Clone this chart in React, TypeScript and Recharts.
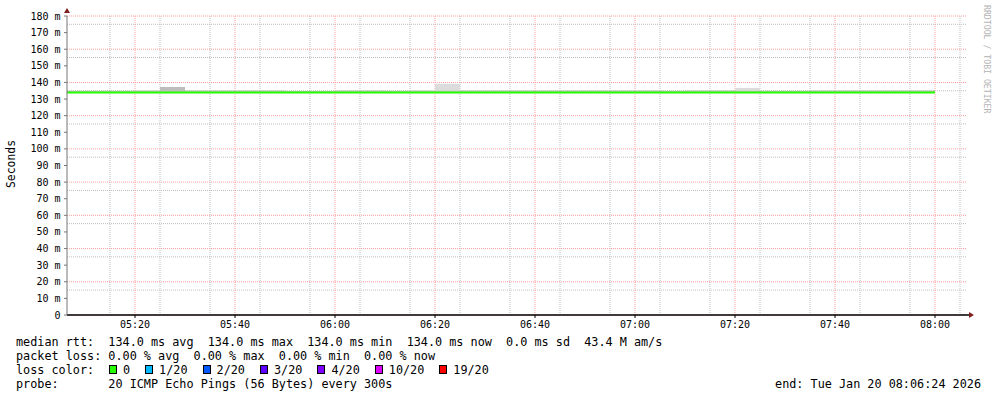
import React from 'react';
import { ComposedChart, Line, Area, XAxis, YAxis, CartesianGrid } from 'recharts';

// step start times (300s steps), last entry closes the final step
const timeLabels = [
  '05:05', '05:10', '05:15', '05:20', '05:25', '05:30', '05:35', '05:40', '05:45',
  '05:50', '05:55', '06:00', '06:05', '06:10', '06:15', '06:20', '06:25', '06:30',
  '06:35', '06:40', '06:45', '06:50', '06:55', '07:00', '07:05', '07:10', '07:15',
  '07:20', '07:25', '07:30', '07:35', '07:40', '07:45', '07:50', '07:55', '08:00',
];

// median rtt in ms
const medianRtt = [
  134.0, 134.0, 134.0, 134.0, 134.0, 134.0, 134.0, 134.0, 134.0,
  134.0, 134.0, 134.0, 134.0, 134.0, 134.0, 134.0, 134.0, 134.0,
  134.0, 134.0, 134.0, 134.0, 134.0, 134.0, 134.0, 134.0, 134.0,
  134.0, 134.0, 134.0, 134.0, 134.0, 134.0, 134.0, 134.0, 134.0,
];

// top of the dense smoke band (ms)
const smokeDense = [
  135.0, 135.0, 135.0, 135.2, 137.2, 135.1, 135.1, 135.1, 135.1,
  134.9, 134.9, 135.1, 135.1, 135.0, 135.2, 135.1, 135.1, 135.1,
  135.1, 135.2, 135.2, 135.1, 135.1, 135.2, 135.0, 135.2, 135.2,
  135.2, 135.0, 135.0, 135.1, 135.1, 135.1, 135.1, 135.1, 135.1,
];

// top of the sparse smoke (max ping, ms)
const smokeMax = [
  135.0, 135.0, 135.0, 135.5, 137.2, 135.1, 135.1, 135.1, 135.1,
  134.9, 134.9, 135.1, 135.1, 135.0, 135.5, 139.2, 135.1, 135.1,
  135.1, 135.2, 135.2, 135.1, 135.1, 135.2, 135.0, 135.2, 135.2,
  136.6, 135.0, 135.0, 135.1, 135.1, 135.1, 135.1, 135.1, 135.1,
];

const xTickLabels = ['05:20', '05:40', '06:00', '06:20', '06:40', '07:00', '07:20', '07:40', '08:00'];
const yTicks = [0, 10, 20, 30, 40, 50, 60, 70, 80, 90, 100, 110, 120, 130, 140, 150, 160, 170, 180];

const lossLabels = ['0', '1/20', '2/20', '3/20', '4/20', '10/20', '19/20'];
const lossColors = ['#26ff00', '#00b8ff', '#0059ff', '#5e00ff', '#7e00ff', '#dd00ff', '#ff0000'];

const toMin = (s: string) => {
  const [h, m] = s.split(':').map(Number);
  return h * 60 + m;
};
const fmtTime = (v: number) =>
  `${String(Math.floor(v / 60)).padStart(2, '0')}:${String(Math.round(v % 60)).padStart(2, '0')}`;

const data = timeLabels.map((t, i) => ({
  t: toMin(t),
  median: medianRtt[i],
  dense: [medianRtt[i], smokeDense[i]],
  sparse: [smokeDense[i], smokeMax[i]],
}));

const START = toMin('05:06') + 0.4;
const END = toMin('08:06') + 0.4;

const W = 997;
const H = 397;
const PLOT_LEFT = 67;
const PLOT_TOP = 16;
const PLOT_RIGHT = 967;
const PLOT_BOTTOM = 315;

const MONO = '"DejaVu Sans Mono", monospace';

const minorX: number[] = [];
for (let m = toMin('05:10'); m <= toMin('08:05'); m += 5) minorX.push(m);
const majorX = xTickLabels.map(toMin);
const minorY: number[] = [];
for (let v = 5; v < 180; v += 10) minorY.push(v);

const legendRow = (top: number): React.CSSProperties => ({
  position: 'absolute',
  left: 16,
  top,
  fontFamily: MONO,
  fontSize: 11.8,
  lineHeight: '14px',
  whiteSpace: 'pre',
  color: '#000',
});

export default function App() {
  return (
    <div style={{ position: 'absolute', left: 0, top: 0, width: W, height: H, background: '#fff' }}>
      <ComposedChart
        width={W}
        height={H}
        data={data}
        margin={{ top: PLOT_TOP, right: W - PLOT_RIGHT, bottom: H - PLOT_BOTTOM - 20, left: 7 }}
      >
        <CartesianGrid
          horizontalValues={minorY}
          verticalValues={minorX}
          stroke="#bdbdbd"
          strokeDasharray="1 1"
        />
        <CartesianGrid
          horizontalValues={yTicks}
          verticalValues={majorX}
          stroke="#ff9f9f"
          strokeDasharray="1 1"
        />
        <XAxis
          dataKey="t"
          type="number"
          domain={[START, END]}
          allowDataOverflow
          ticks={majorX}
          tickFormatter={fmtTime}
          height={20}
          tickSize={3}
          tickMargin={3}
          axisLine={{ stroke: '#000', strokeWidth: 1.5 }}
          tickLine={{ stroke: '#000' }}
          tick={{ fontFamily: MONO, fontSize: 10, fill: '#000' }}
        />
        <YAxis
          type="number"
          domain={[0, 180]}
          ticks={yTicks}
          allowDataOverflow
          width={60}
          tickSize={3}
          tickMargin={3.5}
          tickFormatter={(v: number) => (v === 0 ? '0' : `${v} m`)}
          axisLine={{ stroke: '#777' }}
          tickLine={{ stroke: '#777' }}
          tick={{ fontFamily: MONO, fontSize: 10, fill: '#000' }}
        />
        <Area
          type="stepAfter"
          dataKey="dense"
          stroke="none"
          fill="#bdbdbd"
          fillOpacity={1}
          isAnimationActive={false}
          dot={false}
          activeDot={false}
        />
        <Area
          type="stepAfter"
          dataKey="sparse"
          stroke="none"
          fill="#dcdcdc"
          fillOpacity={1}
          isAnimationActive={false}
          dot={false}
          activeDot={false}
        />
        <Line
          type="stepAfter"
          dataKey="median"
          stroke="#26ff00"
          strokeWidth={2}
          dot={false}
          activeDot={false}
          isAnimationActive={false}
        />
      </ComposedChart>

      <svg
        width={W}
        height={H}
        style={{ position: 'absolute', left: 0, top: 0, pointerEvents: 'none' }}
      >
        <line x1={PLOT_RIGHT} y1={PLOT_BOTTOM} x2={PLOT_RIGHT + 3} y2={PLOT_BOTTOM} stroke="#000" strokeWidth={1.5} />
        <polygon
          points={`${PLOT_LEFT - 3},${PLOT_TOP - 3} ${PLOT_LEFT + 3},${PLOT_TOP - 3} ${PLOT_LEFT},${PLOT_TOP - 8}`}
          fill="#7f1f1f"
        />
        <polygon
          points={`${PLOT_RIGHT + 2},${PLOT_BOTTOM - 3} ${PLOT_RIGHT + 2},${PLOT_BOTTOM + 3} ${PLOT_RIGHT + 7},${PLOT_BOTTOM}`}
          fill="#7f1f1f"
        />
        <text
          x={11}
          y={164}
          transform="rotate(-90 11 164)"
          textAnchor="middle"
          dominantBaseline="central"
          fontFamily={MONO}
          fontSize={11.4}
          fill="#000"
        >
          Seconds
        </text>
        <text
          x={987}
          y={5}
          transform="rotate(90 987 5)"
          textAnchor="start"
          dominantBaseline="central"
          fontFamily={MONO}
          fontSize={8.2}
          fill="#b4b4b4"
        >
          RRDTOOL / TOBI OETIKER
        </text>
      </svg>

      <div style={legendRow(334.5)}>
        {'median rtt:  134.0 ms avg  134.0 ms max  134.0 ms min  134.0 ms now  0.0 ms sd  43.4 M am/s'}
      </div>
      <div style={legendRow(348.5)}>
        {'packet loss: 0.00 % avg  0.00 % max  0.00 % min  0.00 % now'}
      </div>
      <div style={{ ...legendRow(362.5), display: 'flex', alignItems: 'center' }}>
        <span style={{ width: 93, flexShrink: 0 }}>loss color:</span>
        {lossLabels.map((l, i) => (
          <span key={l} style={{ display: 'flex', alignItems: 'center', marginRight: 15 }}>
            <span
              style={{
                display: 'inline-block',
                width: 6,
                height: 7,
                background: lossColors[i],
                border: '1px solid #000',
                marginRight: 6,
              }}
            />
            {l}
          </span>
        ))}
      </div>
      <div style={legendRow(376.5)}>{'probe:       20 ICMP Echo Pings (56 Bytes) every 300s'}</div>
      <div style={{ ...legendRow(376.5), left: 'auto', right: 16 }}>end: Tue Jan 20 08:06:24 2026</div>
    </div>
  );
}
